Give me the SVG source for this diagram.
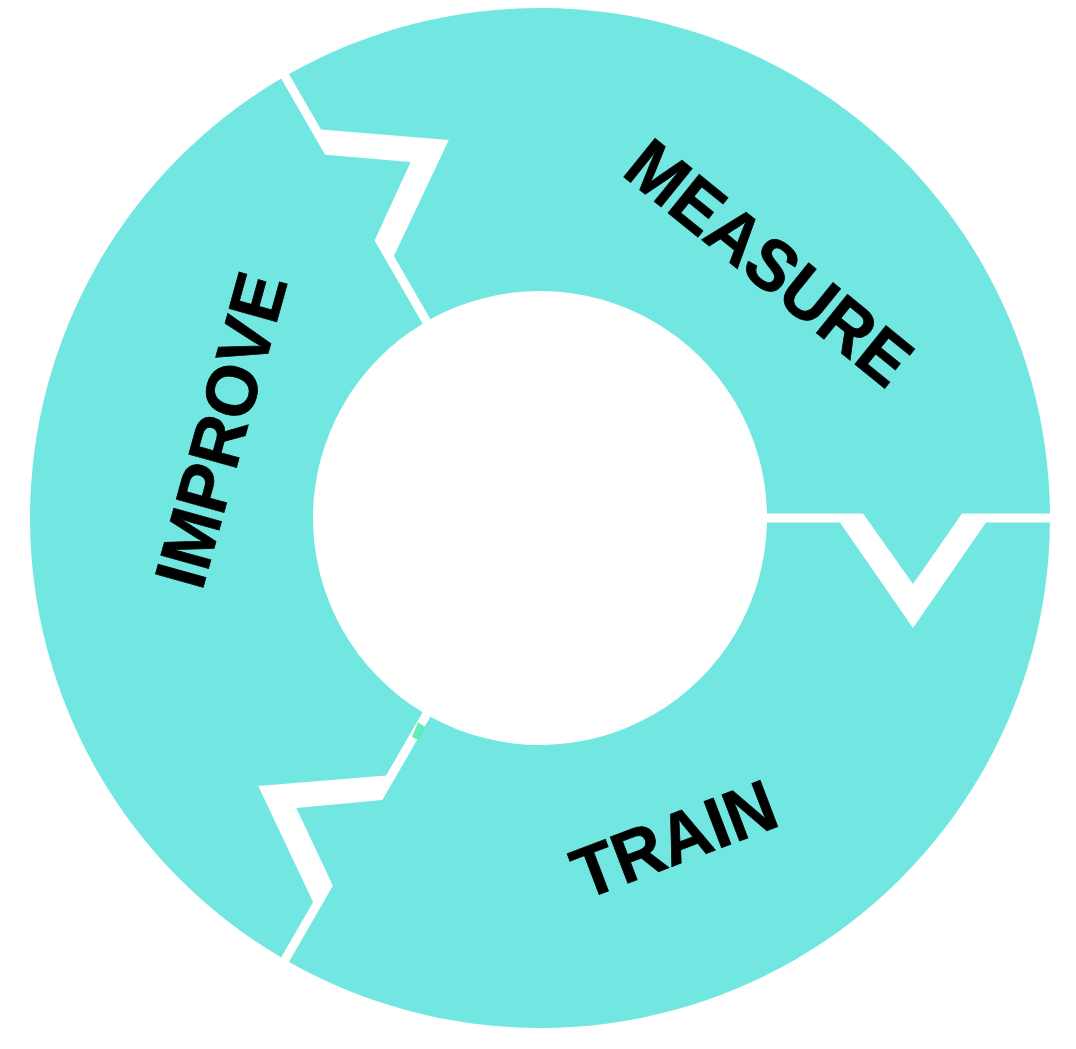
<svg xmlns="http://www.w3.org/2000/svg" xmlns:xlink="http://www.w3.org/1999/xlink" width="1076" height="1049" viewBox="0 0 1076 1049">
  <style>
    .seg { fill: #72e6e0; }
    .label { font-family: "Liberation Sans", Arial, sans-serif; font-weight: bold; font-size: 72px; fill: #000000; stroke: #000000; stroke-width: 0.8px; text-anchor: middle; }
  </style>
  <defs>
    <path id="seg" d="M -109.58 -198.80 L -146.10 -262.06 L -91.24 -378.02 L -219.10 -388.49 L -251.09 -443.89 A 510 510 0 0 1 509.98 -4.5 L 422 -4.5 L 373 66 L 323 -4.5 L 226.96 -4.5 A 227 227 0 0 0 -109.58 -198.80 Z"/>
  </defs>
  <rect x="0" y="0" width="1076" height="1049" fill="#ffffff"/>
  <g id="connectors"></g>
  <g id="measure">
    <use xlink:href="#seg" href="#seg" class="seg" transform="translate(540 518)"/>
    <text class="label" transform="translate(753.5 282) rotate(39)" x="0" y="0" textLength="343" lengthAdjust="spacingAndGlyphs">MEASURE</text>
  </g>
  <g id="train">
    <use xlink:href="#seg" href="#seg" class="seg" transform="translate(540 518) rotate(120)"/>
    <text class="label" transform="translate(683 862.5) rotate(-20.8)" x="0" y="0" textLength="212" lengthAdjust="spacingAndGlyphs">TRAIN</text>
  </g>
  <g id="improve">
    <use xlink:href="#seg" href="#seg" class="seg" transform="translate(540 518) rotate(240)"/>
    <text class="label" transform="translate(245 436.5) rotate(-74.5)" x="0" y="0" textLength="322" lengthAdjust="spacingAndGlyphs">IMPROVE</text>
  </g>
  <polygon points="418,722 425,727 418,740 412,737" fill="#3ce8a6" opacity="0.8"/>
</svg>
